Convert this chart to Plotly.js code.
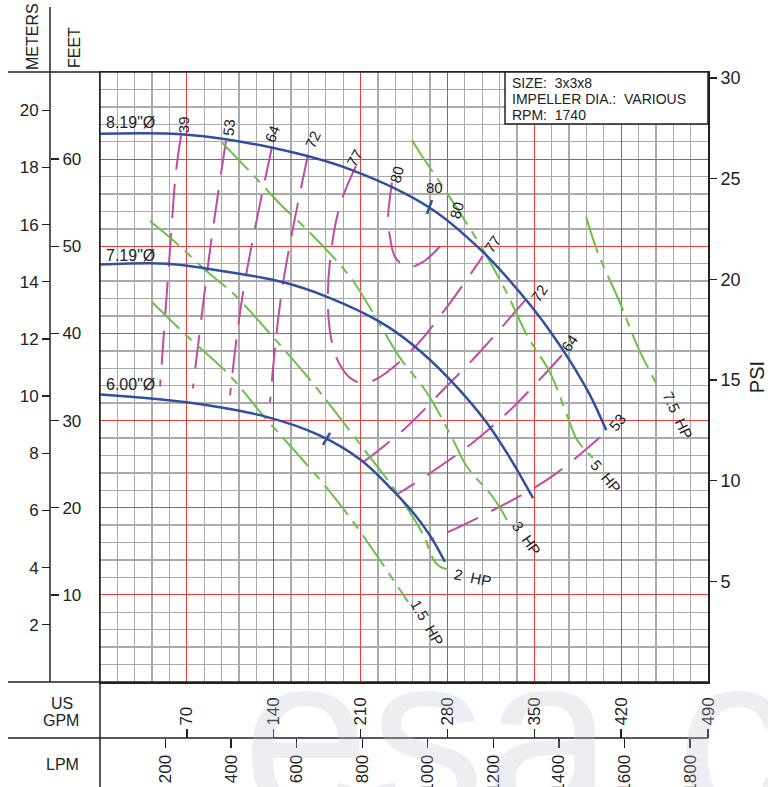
<!DOCTYPE html>
<html><head><meta charset="utf-8">
<script src="https://cdn.plot.ly/plotly-3.0.1.min.js"></script>
<style>html,body{margin:0;padding:0;background:#fff}</style>
</head><body><div id="chart" style="width:768px;height:787px"></div>
<script>
// ---------- DATA (GPM, feet) ----------
const imp819_gpm = [0,70,139,202,266,309,342.5,363,379,395,408];
const imp819_ft  = [62.9,62.8,61.3,58.8,54.4,49.3,44.0,40.2,36.8,32.9,28.9];
const imp719_gpm = [0,54,83,147,183,226,252,282,312,330,349];
const imp719_ft  = [47.9,48.0,47.5,45.9,44.2,41.3,38.7,34.7,29.7,25.8,21.1];
const imp600_gpm = [0,70,135,177,210,236,252,266,278];
const imp600_ft  = [33.0,32.1,30.4,28.3,25.5,22.0,19.5,16.8,13.8];

const bep819_gpm = [263.5,267.6], bep819_ft = [53.7,55.3];
const bep600_gpm = [179.7,185.4], bep600_ft = [27.2,28.6];

// efficiency contours (%)
const eff39_gpm = [65.3,61.2,56.4,48.4], eff39_ft = [62.7,58.5,49.6,33.9];
const eff53_gpm = [101.5,88.7,74.9], eff53_ft = [62.1,49.6,33.7];
const eff64_gpm = [138.6,115.2,104.8], eff64_ft = [61.4,44.6,32.9];
const eff72L_gpm = [167.6,146.7,137.0], eff72L_ft = [60.5,45.0,32.1];
const eff77_gpm = [206.3,193.4,185.4,183.8,187.8,193.4,201.5,211.2,223.2,235.3,255.5,282.1,308.7];
const eff77_ft  = [59.2,54.7,48.4,42.7,38.4,36.4,34.9,34.3,34.8,36.0,38.7,43.5,48.9];
const eff80_gpm = [235.3,232.1,233.7,237.7,247.4,260.3,280.5];
const eff80_ft  = [57.3,53.0,51.1,48.8,47.6,48.2,51.0];
const eff72R_gpm = [342.5,306.3,276.4,245.8,212.0], eff72R_ft = [43.8,37.9,33.5,29.1,25.2];
const eff64R_gpm = [372.3,332.0,299.8,264.3,240.2], eff64R_ft = [37.5,31.4,27.4,23.8,21.6];
const eff53R_gpm = [403.0,368.3,346.6,292.6,266.0], eff53R_ft = [28.1,24.0,22.0,18.0,16.3];

// horsepower lines
const hp15_gpm = [41.9,70.9,102.4,131.4,177.3,203.9,248.2];
const hp15_ft  = [43.6,39.6,35.5,30.6,23.2,18.4,9.2];
const hp2_gpm = [40.3,62.1,86.2,107.2,139.4,170.9,191.8,217.6,239.4,261.9,266.0,272.4,280.5];
const hp2_ft  = [52.9,50.3,47.1,44.6,39.6,34.4,30.6,25.8,21.7,16.5,14.8,13.4,12.9];
const hp3_gpm = [98.3,123.3,147.5,166.8,201.5,225.7,241.8,263.5,284.5,295.8,316.7,328.0];
const hp3_ft  = [61.9,58.2,54.5,51.9,46.5,41.0,37.2,33.2,27.8,24.7,21.2,18.6];
const hp5_gpm = [251.4,257.9,279.7,308.7,328.0,344.1,362.7,377.2,384.4,397.3];
const hp5_ft  = [62.2,60.7,56.1,49.6,44.6,39.8,35.5,30.3,27.8,25.7];
const hp75_gpm = [391.7,401.4,419.1,433.6,448.9];
const hp75_ft  = [53.4,49.2,43.5,38.4,34.1];

// labels
const impLabelText = ['8.19"Ø','7.19"Ø','6.00"Ø'];
const impLabelX = [3,3,3];
const impLabelY = [64.2,49.0,34.1];

const effLabelText = ['39','53','64','72','77','80','80','80','77','72','64','53'];
const effLabelX = [66.9,104,138.6,171.7,205.5,239.4,269.2,287.7,316.7,353.8,378.0,416.7];
const effLabelY = [63.9,63.6,63.0,62.2,60.2,58.2,56.7,54.2,50.3,44.6,38.9,29.8];
const effLabelAngle = [-90,-85,-70,-65,-60,-75,0,-75,-55,-55,-55,-50];

const hpLabelText = ['1.5\u00a0\u00a0HP','2\u00a0\u00a0HP','3\u00a0\u00a0HP','5\u00a0\u00a0HP','7.5\u00a0\u00a0HP'];
const hpLabelX = [263.5,300.6,344.1,407.8,465.8];
const hpLabelY = [6.8,12.0,16.5,23.6,30.6];
const hpLabelAngle = [60,12,55,50,65];

const gpmTicks = [70,140,210,280,350,420,490];
const lpmTicks = [200,400,600,800,1000,1200,1400,1600,1800];
const meterTicks = [2,4,6,8,10,12,14,16,18,20];
const feetTicks = [10,20,30,40,50,60];
const psiTicks = [5,10,15,20,25,30];

const infoLines = ['SIZE:\u00a0\u00a03x3x8','IMPELLER\u00a0DIA.:\u00a0\u00a0VARIOUS','RPM:\u00a0\u00a01740'];

// ---------- STYLE ----------
const W=768,H=787;
const px = x => x/W, py = y => 1 - y/H;
const BLUE='#2f4f9f', MAG='#c04aa6', GREEN='#6cc04a', RED='#f23a3a', GRAY='#aaaaaa', INK='#222';
const FONT='"Liberation Sans", Arial, sans-serif';
const maxGpm = 490, maxFt = 70;

const line = (x,y,color,width,dash) => ({type:'scatter',mode:'lines',x,y,xaxis:'x',yaxis:'y',
  line:{color,width,dash:dash||'solid',shape:'spline',smoothing:1},hoverinfo:'skip'});

const effDash='34px,15px', hpDash='38px,8px,9px,8px';
const traces = [
  line(eff39_gpm,eff39_ft,MAG,2,effDash),
  line(eff53_gpm,eff53_ft,MAG,2,effDash),
  line(eff64_gpm,eff64_ft,MAG,2,effDash),
  line(eff72L_gpm,eff72L_ft,MAG,2,effDash),
  line(eff77_gpm,eff77_ft,MAG,2,effDash),
  line(eff80_gpm,eff80_ft,MAG,2,effDash),
  line(eff72R_gpm,eff72R_ft,MAG,2,effDash),
  line(eff64R_gpm,eff64R_ft,MAG,2,effDash),
  line(eff53R_gpm,eff53R_ft,MAG,2,effDash),
  line(hp15_gpm,hp15_ft,GREEN,2,hpDash),
  line(hp2_gpm,hp2_ft,GREEN,2,hpDash),
  line(hp3_gpm,hp3_ft,GREEN,2,hpDash),
  line(hp5_gpm,hp5_ft,GREEN,2,hpDash),
  line(hp75_gpm,hp75_ft,GREEN,2,hpDash),
  line(imp819_gpm,imp819_ft,BLUE,2.5),
  line(imp719_gpm,imp719_ft,BLUE,2.5),
  line(imp600_gpm,imp600_ft,BLUE,2.5),
  line(bep819_gpm,bep819_ft,BLUE,2.5),
  line(bep600_gpm,bep600_ft,BLUE,2.5),
];

const annotations = [];
// faint watermark (drawn first)
annotations.push({xref:'paper',yref:'paper',x:px(240),y:py(735),xanchor:'left',yanchor:'middle',text:'esa.co',showarrow:false,
  font:{family:FONT,size:230,color:'rgba(185,193,210,0.28)'}});
impLabelText.forEach((t,i)=>annotations.push({xref:'x',yref:'y',x:impLabelX[i],y:impLabelY[i],text:t,
  showarrow:false,xanchor:'left',yanchor:'middle',font:{family:FONT,size:16,color:INK}}));
effLabelText.forEach((t,i)=>annotations.push({xref:'x',yref:'y',x:effLabelX[i],y:effLabelY[i],text:t,
  showarrow:false,xanchor:'center',yanchor:'middle',textangle:effLabelAngle[i],font:{family:FONT,size:15,color:INK}}));
hpLabelText.forEach((t,i)=>annotations.push({xref:'x',yref:'y',x:hpLabelX[i],y:hpLabelY[i],text:t,
  showarrow:false,xanchor:'center',yanchor:'middle',textangle:hpLabelAngle[i],font:{family:FONT,size:15,color:INK}}));
infoLines.forEach((t,i)=>annotations.push({xref:'paper',yref:'paper',x:px(510),y:py(83+16*i),text:t,
  showarrow:false,xanchor:'left',yanchor:'middle',font:{family:FONT,size:14,color:INK}}));
// header texts
const hdr = (text,x,y,angle)=>({xref:'paper',yref:'paper',x:px(x),y:py(y),text,textangle:angle||0,
  xanchor:'center',yanchor:'middle',showarrow:false,font:{family:FONT,size:16,color:INK}});
annotations.push(hdr('METERS',33,37,-90));
annotations.push(hdr('FEET',75,48,-90));
annotations.push(hdr('US',62,703));
annotations.push(hdr('GPM',61,720));
annotations.push(hdr('LPM',62,764));

const blk = {color:'#222',width:1.5};
const shapes = [
  {type:'line',xref:'paper',yref:'paper',x0:px(50),x1:px(50),y0:py(7),y1:py(682),line:blk},
  {type:'line',xref:'paper',yref:'paper',x0:px(100),x1:px(100),y0:py(72),y1:py(787),line:blk},
  {type:'line',xref:'paper',yref:'paper',x0:px(8),x1:px(708),y0:py(72),y1:py(72),line:blk},
  {type:'line',xref:'paper',yref:'paper',x0:px(8),x1:px(708),y0:py(682),y1:py(682),line:blk},
  {type:'line',xref:'paper',yref:'paper',x0:px(8),x1:px(708),y0:py(738),y1:py(738),line:blk},
  {type:'rect',xref:'paper',yref:'paper',x0:px(505),x1:px(708),y0:py(72),y1:py(124),
   fillcolor:'#fff',line:blk,layer:'above'},
];

const tickfont = {family:FONT,size:17,color:INK};
const layout = {
  width:W,height:H,margin:{l:0,r:0,t:0,b:0},
  paper_bgcolor:'#fff',plot_bgcolor:'#fff',showlegend:false,
  xaxis:{domain:[px(100),px(708)],range:[0,maxGpm],anchor:'y',tick0:0,dtick:70,
    showgrid:true,gridcolor:RED,gridwidth:1,zeroline:false,showticklabels:false,ticks:'',
    minor:{dtick:14,showgrid:true,gridcolor:GRAY,gridwidth:1.3},
    showline:true,linecolor:'#222',linewidth:1.5,mirror:true},
  yaxis:{domain:[py(682),py(72)],range:[0,maxFt],anchor:'x',tick0:0,dtick:10,
    showgrid:true,gridcolor:RED,gridwidth:1,zeroline:false,showticklabels:false,ticks:'',
    minor:{dtick:2,showgrid:true,gridcolor:GRAY,gridwidth:1.3},
    showline:true,linecolor:'#222',linewidth:1.5,mirror:true},
  yaxis2:{overlaying:'y',anchor:'free',position:px(50),side:'right',range:[0,maxFt],
    tickmode:'array',tickvals:feetTicks,ticks:'outside',ticklen:8,tickwidth:1.3,tickcolor:'#222',
    showgrid:false,zeroline:false,showline:false,tickfont},
  yaxis3:{overlaying:'y',anchor:'free',position:px(50),side:'left',range:[0,maxFt*0.3048],
    tickmode:'array',tickvals:meterTicks,ticks:'outside',ticklen:8,tickwidth:1.3,tickcolor:'#222',
    showgrid:false,zeroline:false,showline:false,tickfont},
  yaxis4:{overlaying:'y',anchor:'x',side:'right',range:[0,maxFt/2.31],
    tickmode:'array',tickvals:psiTicks,ticks:'outside',ticklen:8,tickwidth:1.3,tickcolor:'#222',
    showgrid:false,zeroline:false,showline:false,tickfont:{family:FONT,size:18,color:INK},
    title:{text:'PSI',font:{family:FONT,size:20,color:INK},standoff:12}},
  xaxis2:{overlaying:'x',anchor:'free',position:py(738),side:'top',range:[0,maxGpm],
    tickmode:'array',tickvals:gpmTicks,ticks:'outside',ticklen:9,tickwidth:1.3,tickcolor:'#222',
    tickangle:-90,showgrid:false,zeroline:false,showline:false,tickfont},
  xaxis3:{overlaying:'x',anchor:'free',position:py(738),side:'bottom',range:[0,maxGpm*3.785],
    tickmode:'array',tickvals:lpmTicks,ticks:'outside',ticklen:9,tickwidth:1.3,tickcolor:'#222',
    tickangle:-90,showgrid:false,zeroline:false,showline:false,tickfont},
  annotations,shapes
};
// empty traces so the extra axes are drawn
traces.push({type:'scatter',x:[null],y:[null],xaxis:'x',yaxis:'y2',hoverinfo:'skip'});
traces.push({type:'scatter',x:[null],y:[null],xaxis:'x',yaxis:'y3',hoverinfo:'skip'});
traces.push({type:'scatter',x:[null],y:[null],xaxis:'x',yaxis:'y4',hoverinfo:'skip'});
traces.push({type:'scatter',x:[null],y:[null],xaxis:'x2',yaxis:'y',hoverinfo:'skip'});
traces.push({type:'scatter',x:[null],y:[null],xaxis:'x3',yaxis:'y',hoverinfo:'skip'});

Plotly.newPlot('chart',traces,layout,{staticPlot:true,displayModeBar:false});
</script></body></html>
